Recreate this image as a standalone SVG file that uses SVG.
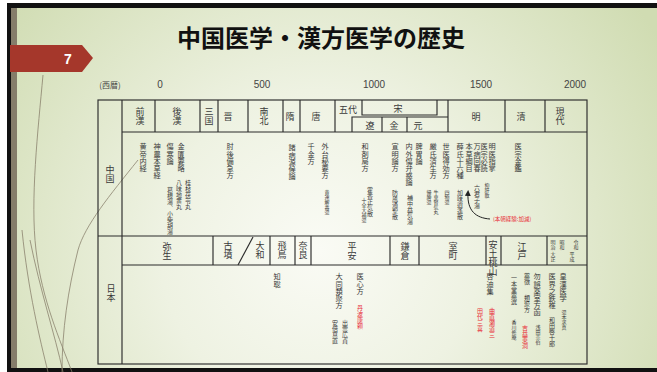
<svg xmlns="http://www.w3.org/2000/svg" width="657" height="372" viewBox="0 0 657 372">
<defs>
<radialGradient id="bg" cx="320" cy="250" r="400" gradientUnits="userSpaceOnUse">
<stop offset="0" stop-color="#fafbf5"/>
<stop offset="0.4" stop-color="#eef2e2"/>
<stop offset="1" stop-color="#d0dcb2"/>
</radialGradient>
<marker id="ah" markerWidth="6" markerHeight="6" refX="3" refY="3" orient="auto" markerUnits="userSpaceOnUse">
<path d="M0,0 L6,3 L0,6 Z" fill="#222"/>
</marker>
<style>
.ln{stroke:#2b2b2b;stroke-width:1.15;fill:none}
.wisp{stroke:#857c68;stroke-width:1;fill:none;opacity:0.75}
.v{writing-mode:vertical-rl;font-family:"Noto Sans CJK JP",sans-serif;font-size:7.2px;fill:#3a3a3a}
.s{font-size:6px}
.xs{font-size:5px}
.hd{writing-mode:vertical-rl;font-family:"Noto Sans CJK JP",sans-serif;font-size:9px;fill:#3a3a3a}
.hh{font-family:"Noto Sans CJK JP",sans-serif;font-size:9px;fill:#3a3a3a;text-anchor:middle}
.red{fill:#e8303a}
.yr{font-family:"Liberation Sans",sans-serif;font-size:10px;fill:#444;text-anchor:middle}
</style>
</defs>
<rect x="0" y="0" width="657" height="372" fill="#ffffff"/>
<rect x="7" y="3" width="650" height="369" fill="url(#bg)"/>
<g id="frame">
<rect x="7" y="3" width="650" height="5" fill="#111"/>
<rect x="7" y="3" width="4" height="369" fill="#111"/>
<rect x="11" y="8" width="6" height="360" fill="#857d6a"/>
<rect x="7" y="368" width="650" height="4" fill="#111"/>
</g>
<g id="wisps">
<path class="wisp" d="M43,75 C38,130 30,200 36,250 C42,300 60,340 72,372"/>
<path class="wisp" d="M30,240 C40,290 55,335 63,372"/>
<path class="wisp" d="M138,160 C110,195 85,225 78,250 C68,290 62,330 62,372"/>
<path class="wisp" d="M22,230 C28,290 40,340 48,372" opacity="0.4"/>
</g>
<g id="slide-number">
<path d="M10,45 L82,45 L93,58 L82,72 L10,72 Z" fill="#a5372b"/>
<text x="68" y="64" font-family="Liberation Sans,sans-serif" font-size="14" font-weight="bold" fill="#fff" text-anchor="middle">7</text>
</g>
<g id="title">
<text x="321" y="47" font-family="Noto Sans CJK JP,sans-serif" font-size="24" font-weight="bold" fill="#111" text-anchor="middle">中国医学・漢方医学の歴史</text>
</g>
<g id="axis">
<text x="110" y="88" font-family="Noto Sans CJK JP,sans-serif" font-size="8" fill="#444" text-anchor="middle">(西暦)</text>
<text class="yr" x="160" y="88">0</text>
<text class="yr" x="262" y="88">500</text>
<text class="yr" x="374" y="88">1000</text>
<text class="yr" x="481" y="88">1500</text>
<text class="yr" x="575" y="88">2000</text>
</g>
<g id="table-lines">
<rect class="ln" x="98" y="100" width="489" height="264"/>
<line class="ln" x1="122" y1="100" x2="122" y2="364"/>
<line class="ln" x1="122" y1="132" x2="587" y2="132"/>
<line class="ln" x1="98" y1="236" x2="587" y2="236"/>
<line class="ln" x1="122" y1="265" x2="587" y2="265"/>
</g>
<g id="china-label"><text class="hd" x="110" y="165">中国</text></g>
<g id="japan-label"><text class="hd" x="111" y="284">日本</text></g>
<g id="china-eras">
<g id="c-zenkan"><line class="ln" x1="155" y1="100" x2="155" y2="132"/><text class="hd" x="140" y="107">前漢</text></g>
<g id="c-gokan"><line class="ln" x1="200" y1="100" x2="200" y2="132"/><text class="hd" x="177" y="107">後漢</text></g>
<g id="c-sangoku"><line class="ln" x1="218" y1="100" x2="218" y2="132"/><text class="hd" x="209" y="107">三国</text></g>
<g id="c-shin"><line class="ln" x1="248" y1="100" x2="248" y2="132"/><text class="hd" x="228" y="112">晋</text></g>
<g id="c-nanboku"><line class="ln" x1="283" y1="100" x2="283" y2="132"/><text class="hd" x="264" y="107">南北</text></g>
<g id="c-zui"><line class="ln" x1="300" y1="100" x2="300" y2="132"/><text class="hd" x="290" y="112">隋</text></g>
<g id="c-tou"><line class="ln" x1="335" y1="100" x2="335" y2="132"/><text class="hd" x="316" y="112">唐</text></g>
<g id="c-godai"><text class="hh" x="348" y="113" font-size="8">五代</text></g>
<g id="c-sou"><path class="ln" d="M362,100 L362,115 L437,115 L437,100"/><text class="hh" x="398" y="112">宋</text></g>
<g id="c-ryou"><path class="ln" d="M352,132 L352,117 L448,117"/><text class="hh" x="370" y="129">遼</text></g>
<g id="c-kin"><line class="ln" x1="382" y1="117" x2="382" y2="132"/><text class="hh" x="394" y="129">金</text></g>
<g id="c-gen"><line class="ln" x1="407" y1="117" x2="407" y2="132"/><text class="hh" x="418" y="129">元</text></g>
<g id="c-min"><line class="ln" x1="448" y1="100" x2="448" y2="132"/><text class="hh" x="476" y="120">明</text></g>
<g id="c-shin2"><line class="ln" x1="505" y1="100" x2="505" y2="132"/><text class="hh" x="521" y="120">清</text></g>
<g id="c-gendai"><line class="ln" x1="545" y1="100" x2="545" y2="132"/><text class="hd" x="560" y="107">現代</text></g>
</g>
<g id="japan-eras">
<g id="j-yayoi"><line class="ln" x1="213" y1="236" x2="213" y2="265"/><text class="hd" x="167" y="242" font-size="8">弥生</text></g>
<g id="j-kofun"><line class="ln" x1="253" y1="237" x2="238" y2="265"/><text class="hd" x="228" y="241" font-size="8">古墳</text></g>
<g id="j-yamato"><line class="ln" x1="270" y1="236" x2="270" y2="265"/><text class="hd" x="260" y="241" font-size="8">大和</text></g>
<g id="j-asuka"><line class="ln" x1="295" y1="236" x2="295" y2="265"/><text class="hd" x="282" y="241" font-size="8">飛鳥</text></g>
<g id="j-nara"><line class="ln" x1="311" y1="236" x2="311" y2="265"/><text class="hd" x="303" y="241" font-size="8">奈良</text></g>
<g id="j-heian"><line class="ln" x1="390" y1="236" x2="390" y2="265"/><text class="hd" x="352" y="242" font-size="8">平安</text></g>
<g id="j-kamakura"><line class="ln" x1="419" y1="236" x2="419" y2="265"/><text class="hd" x="405" y="242" font-size="8">鎌倉</text></g>
<g id="j-muromachi"><line class="ln" x1="486" y1="236" x2="486" y2="265"/><text class="hd" x="453" y="242" font-size="8">室町</text></g>
<g id="j-azuchi"><line class="ln" x1="501" y1="236" x2="501" y2="265"/><text class="hd" x="493" y="240" font-size="5">安土桃山</text></g>
<g id="j-edo"><line class="ln" x1="547" y1="236" x2="547" y2="265"/><text class="hd" x="522" y="242" font-size="8">江戸</text></g>
<g id="j-modern">
<text class="v xs" x="553" y="240">明治</text>
<text class="v xs" x="553" y="252">大正</text>
<text class="v xs" x="562" y="240">昭和</text>
<text class="v xs" x="572" y="252">平成</text>
<text class="v xs" x="576" y="240">令和</text>
</g>
</g>
<g id="china-texts">
<text class="v" x="143" y="143">黄帝内経</text>
<text class="v" x="157" y="143">神農本草経</text>
<text class="v" x="170" y="143">傷寒論</text>
<text class="v" x="181" y="143">金匱要略</text>
<text class="v s" x="170" y="187">葛根湯、小柴胡湯</text>
<text class="v s" x="179" y="180">八味地黄丸</text>
<text class="v s" x="188" y="180">桂枝茯苓丸</text>
<text class="v" x="230" y="143">肘後備急方</text>
<text class="v" x="292" y="144">諸病源候論</text>
<text class="v" x="311" y="143">千金方</text>
<text class="v" x="325" y="143">外台秘要方</text>
<text class="v xs" x="327" y="190">黄連解毒湯</text>
<text class="v" x="365" y="143">和剤局方</text>
<text class="v xs" x="364" y="198">十全大補湯</text>
<text class="v s" x="370" y="187">藿香正気散</text>
<text class="v" x="395" y="143">宣明論方</text>
<text class="v s" x="395" y="190">防風通聖散</text>
<text class="v" x="409" y="143">内外傷弁惑論</text>
<text class="v s" x="410" y="195">補中益気湯</text>
<text class="v" x="419" y="143">脾胃論</text>
<text class="v" x="433" y="143">厳氏済生方</text>
<text class="v xs" x="429" y="190">帰脾湯</text>
<text class="v xs" x="436" y="190">牛車腎気丸</text>
<text class="v" x="446" y="143">世医得効方</text>
<text class="v xs" x="447" y="190">四物湯</text>
<text class="v" x="460" y="143">薛氏十六種</text>
<text class="v s" x="460" y="190">加味逍遙散</text>
<text class="v" x="469" y="143">本草綱目</text>
<text class="v" x="477" y="143">万病回春</text>
<text class="v" x="484" y="143">医宗必読</text>
<text class="v" x="492" y="143">明医指掌</text>
<text class="v" x="518" y="143">医宗金鑑</text>
<text class="v s" x="477" y="185">六君子湯</text>
<text class="v xs" x="487" y="183">抑肝散</text>
<text class="red" x="493" y="221" font-family="Noto Sans CJK JP,sans-serif" font-size="5.5">(本朝経験:加減)</text>
</g>
<g id="connectors">
<path d="M490,219 C476,218 467,211 468,193" stroke="#222" stroke-width="1" fill="none" marker-end="url(#ah)"/>
</g>
<g id="japan-texts">
<text class="v" x="277" y="273">知聡</text>
<text class="v" x="339" y="273">大同類聚方</text>
<text class="v" x="360" y="273">医心方</text>
<text class="v s red" x="360" y="305">丹波康頼</text>
<text class="v s" x="335" y="320">安倍真直</text>
<text class="v s" x="345" y="320">出雲広貞</text>
<text class="v" x="490" y="273">啓迪集</text>
<text class="v s red" x="480" y="308">田代三喜</text>
<text class="v s red" x="492" y="308">曲直瀬道三</text>
<text class="v s" x="514" y="275">一本堂薬選</text>
<text class="v xs" x="514" y="320">香川修庵</text>
<text class="v s" x="527" y="273">薬徴</text>
<text class="v s" x="527" y="295">類聚方</text>
<text class="v s red" x="525" y="325">吉益東洞</text>
<text class="v" x="537" y="273">勿誤薬室方函</text>
<text class="v xs" x="538" y="325">浅田宗伯</text>
<text class="v" x="552" y="273">医界之鉄椎</text>
<text class="v s" x="552" y="317">和田啓十郎</text>
<text class="v" x="563" y="273">皇漢医学</text>
<text class="v xs" x="564" y="310">湯本求真</text>
</g>
</svg>
